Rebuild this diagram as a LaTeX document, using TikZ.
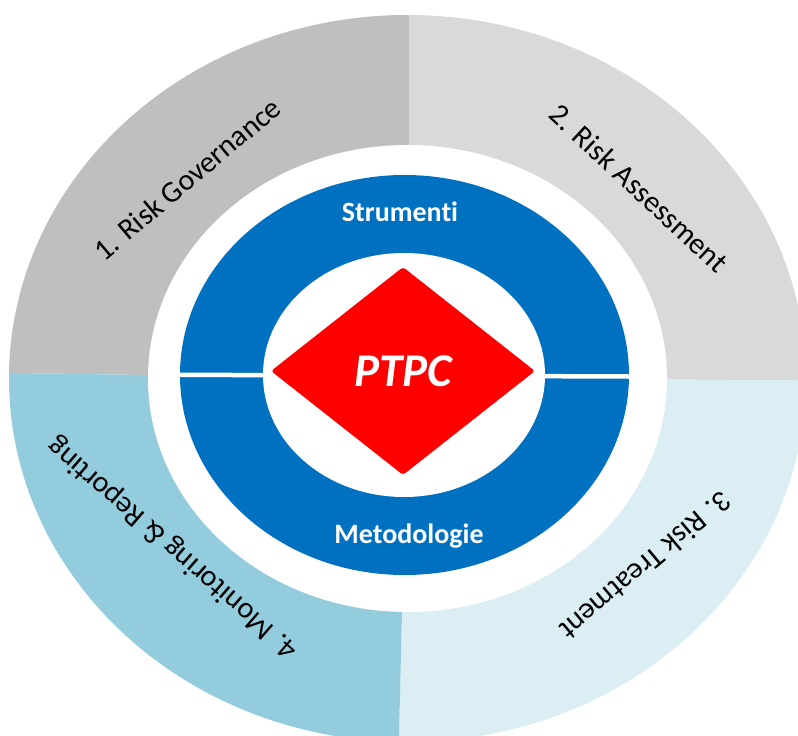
\documentclass[tikz,border=0pt]{standalone}
\usepackage{fontspec}
\setmainfont{Carlito}[Ligatures=NoCommon]
\usetikzlibrary{shapes.geometric}
\definecolor{govgray}{HTML}{BFBFBF}
\definecolor{assgray}{HTML}{D9D9D9}
\definecolor{treatblue}{HTML}{DAEEF3}
\definecolor{monblue}{HTML}{93CDDD}
\definecolor{ringblue}{HTML}{0070C0}

\begin{document}
\begin{tikzpicture}[x=1pt, y=-1pt,
		seglabel/.style={font=\fontsize{30}{36}\selectfont, text=black, inner sep=0pt},
		ringlabel/.style={font=\bfseries\fontsize{28}{34}\selectfont, text=white, inner sep=0pt, anchor=base}]
		\useasboundingbox (0,0) rectangle (798,736);
		\clip (0,0) rectangle (798,736);
		\def\cx{407.5}
		\def\cy{378.5}
		\begin{scope}
			\clip (\cx,\cy) ellipse [x radius=398.5, y radius=363.5];
			\fill[govgray] (-50,372) -- (148,375) -- (409,145) -- (409,-50) -- (-50,-50) -- cycle;
			\fill[assgray] (409,-50) -- (409,145) -- (667,379.5) -- (850,381) -- (850,-50) -- cycle;
			\fill[treatblue] (850,381) -- (667,379.5) -- (402,612) -- (397.5,800) -- (850,800) -- cycle;
			\fill[monblue] (397.5,800) -- (402,612) -- (148,375) -- (-50,372) -- (-50,800) -- cycle;
		\end{scope}
		\fill[white] (\cx,\cy) ellipse [x radius=259.5, y radius=233.5];
		\fill[ringblue] (404.5,375) ellipse [x radius=224.5, y radius=200];
		\fill[white] (404,375) ellipse [x radius=141, y radius=122];
		\draw[white, line width=4.5pt] (180,374.8) -- (629,376.5);
		\node[diamond, fill=red, minimum width=264, minimum height=208, inner sep=0pt, rounded corners=3pt, text=white, font=\bfseries\itshape\fontsize{47}{56}\selectfont] (ptpc) at (403,371) {PTPC};
		\node[ringlabel] (strum) at (400,221) {Strumenti};
		\node[ringlabel] (metod) at (409,543) {Metodologie};
		\node[seglabel, rotate=40] (gov) at (187,179) {1. Risk Governance};
		\node[seglabel, rotate=-43] (assess) at (639,188) {2. Risk Assessment};
		\node[seglabel, rotate=-140] (treat) at (646,566) {3. Risk Treatment};
		\node[seglabel, rotate=139] (monit) at (173,548) {4. Monitoring \& Reporting};
	\end{tikzpicture}
\end{document}
